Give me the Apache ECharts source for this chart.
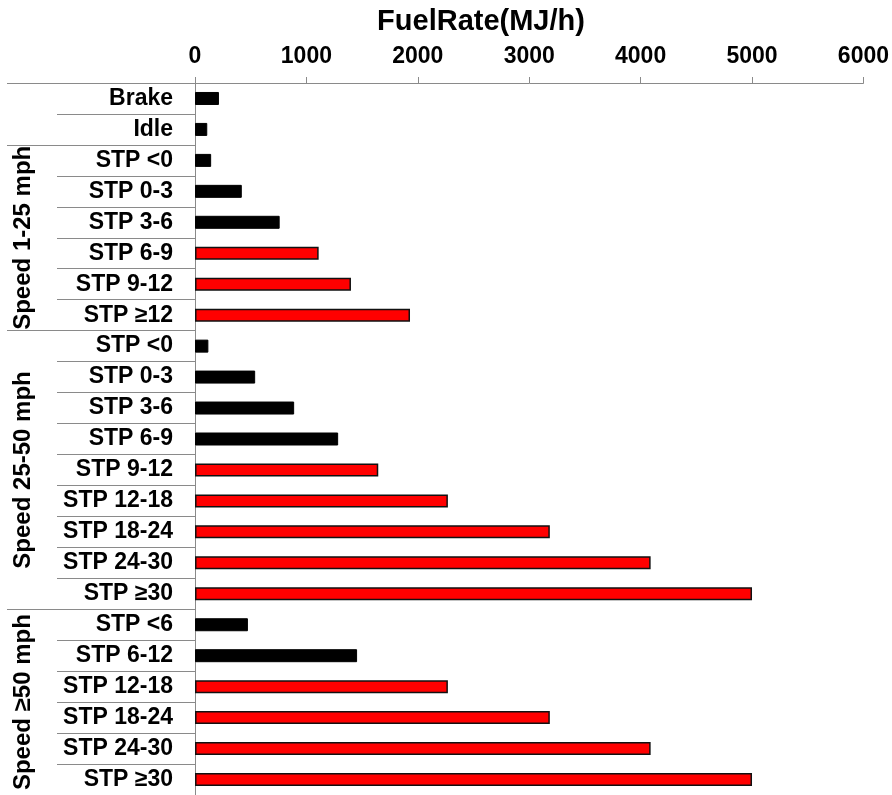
<!DOCTYPE html>
<html>
<head>
<meta charset="utf-8">
<script src="https://cdn.jsdelivr.net/npm/echarts@6/dist/echarts.min.js"></script>
<style>
  html, body { margin: 0; padding: 0; background: #fff; }
  #chart { width: 892px; height: 795px; }
</style>
</head>
<body>
<div id="chart"></div>
<script>
// Operating-mode bins, top to bottom
const categories = [
  'Brake', 'Idle',
  'STP <0', 'STP 0-3', 'STP 3-6', 'STP 6-9', 'STP 9-12', 'STP ≥12',
  'STP <0', 'STP 0-3', 'STP 3-6', 'STP 6-9', 'STP 9-12', 'STP 12-18', 'STP 18-24', 'STP 24-30', 'STP ≥30',
  'STP <6', 'STP 6-12', 'STP 12-18', 'STP 18-24', 'STP 24-30', 'STP ≥30'
];

// Fuel rate (MJ/h) for low-power bins
const lowPowerRate = [
  215, 110,
  145, 420, 760, '-', '-', '-',
  120, 540, 890, 1285, '-', '-', '-', '-', '-',
  475, 1455, '-', '-', '-', '-'
];

// Fuel rate (MJ/h) for high-power bins
const highPowerRate = [
  '-', '-',
  '-', '-', '-', 1110, 1400, 1930,
  '-', '-', '-', '-', 1645, 2270, 3185, 4090, 5000,
  '-', '-', 2270, 3185, 4090, 5000
];

// Speed groups: label and first/last bin index
const groupNames = ['Speed 1-25 mph', 'Speed 25-50 mph', 'Speed ≥50 mph'];
const groupFirst = [2, 8, 17];
const groupLast = [7, 16, 22];

// Value axis ticks
const xTicks = [0, 1000, 2000, 3000, 4000, 5000, 6000];

const titleText = 'FuelRate(MJ/h)';

const FONT = '"Liberation Sans", Arial, sans-serif';
const GRAY = '#8a8a8a';

// Bins where a long divider starts a new block on the left
const blockStarts = [0].concat(groupFirst);

const chart = echarts.init(document.getElementById('chart'), null, { renderer: 'canvas' });

chart.setOption({
  animation: false,
  backgroundColor: '#fff',
  grid: { left: 195, right: 28, top: 83, height: 713 },
  xAxis: {
    type: 'value',
    position: 'top',
    min: xTicks[0],
    max: xTicks[xTicks.length - 1],
    interval: xTicks[1] - xTicks[0],
    axisLine: { show: true, lineStyle: { color: GRAY, width: 1 } },
    axisTick: { show: true, length: 6, lineStyle: { color: GRAY, width: 1 } },
    axisLabel: {
      margin: 15,
      color: '#000',
      fontFamily: FONT,
      fontWeight: 'bold',
      fontSize: 23,
      formatter: function (v) { return String(v); }
    },
    splitLine: { show: false }
  },
  yAxis: [
    {
      type: 'category',
      data: categories,
      inverse: true,
      position: 'left',
      axisLine: { show: true, lineStyle: { color: GRAY, width: 1 } },
      axisTick: { show: true, length: 138, lineStyle: { color: GRAY, width: 1 } },
      axisLabel: {
        margin: 22,
        color: '#000',
        fontFamily: FONT,
        fontWeight: 'bold',
        fontSize: 23,
        interval: 0
      }
    },
    {
      // long dividers between the speed blocks
      type: 'category',
      data: categories,
      inverse: true,
      position: 'left',
      axisLine: { show: false },
      axisLabel: { show: false },
      axisTick: {
        show: true,
        length: 188,
        interval: function (index) { return blockStarts.indexOf(index) >= 0; },
        lineStyle: { color: GRAY, width: 1 }
      }
    }
  ],
  series: [
    {
      name: 'low',
      type: 'bar',
      data: lowPowerRate,
      barWidth: 13,
      barGap: '-100%',
      itemStyle: { color: '#000000', borderColor: '#000000', borderWidth: 1 }
    },
    {
      name: 'high',
      type: 'bar',
      data: highPowerRate,
      barWidth: 13,
      barGap: '-100%',
      itemStyle: { color: '#ff0000', borderColor: '#111111', borderWidth: 1.5 }
    }
  ]
});

// Title and rotated group labels
const graphics = [{
  type: 'text',
  x: 481,
  y: 22,
  style: {
    text: titleText,
    font: 'bold 29px ' + FONT,
    fill: '#000',
    align: 'center',
    verticalAlign: 'middle'
  }
}];

groupNames.forEach(function (name, i) {
  const y0 = chart.convertToPixel({ yAxisIndex: 0 }, groupFirst[i]);
  const y1 = chart.convertToPixel({ yAxisIndex: 0 }, groupLast[i]);
  graphics.push({
    type: 'text',
    x: 23,
    y: (y0 + y1) / 2,
    rotation: Math.PI / 2,
    style: {
      text: name,
      font: 'bold 24px ' + FONT,
      fill: '#000',
      align: 'center',
      verticalAlign: 'middle'
    }
  });
});

chart.setOption({ graphic: graphics });
</script>
</body>
</html>
